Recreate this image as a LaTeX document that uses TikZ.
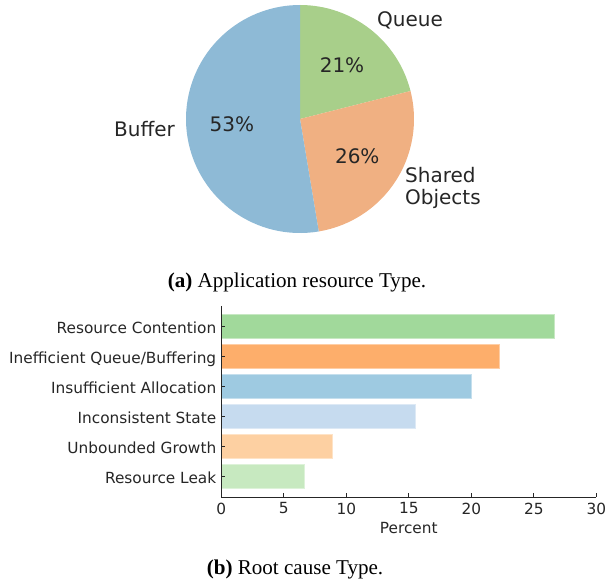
\documentclass[tikz,border=0pt]{standalone}
\usepackage{fontspec}
\setmainfont{Liberation Serif}
\newfontfamily\plotfont{DejaVu Sans}
\usepackage{tikz}
\usetikzlibrary{positioning}
\definecolor{pieblue}{HTML}{8EBAD6}
\definecolor{piegreen}{HTML}{A8CF8A}
\definecolor{pieorange}{HTML}{F0B082}
\definecolor{rcgreen}{HTML}{A1D99B}
\definecolor{iqorange}{HTML}{FDAE6B}
\definecolor{iablue}{HTML}{9ECAE1}
\definecolor{isblue}{HTML}{C6DBEF}
\definecolor{ugorange}{HTML}{FDD0A2}
\definecolor{rlgreen}{HTML}{C7E9C0}
\definecolor{inkgray}{HTML}{262626}

\begin{document}
\begin{tikzpicture}[x=0.75pt,y=0.75pt,
  every node/.style={inner sep=0pt,text=inkgray},
  pielabel/.style={font=\plotfont\fontsize{15}{16.5}\selectfont,align=left},
  axislabel/.style={font=\plotfont\fontsize{11.5}{13.5}\selectfont},
  caption/.style={font=\fontsize{15.8}{18}\selectfont,text=black},
  spine/.style={line width=0.75pt,draw=inkgray}]
\useasboundingbox (0,0) rectangle (606,586);
% pie, slices of 4/19, 5/19 and 10/19
\coordinate (pc) at (300,467);
\foreach \a/\b/\c in {90/14.21/piegreen,14.21/-80.53/pieorange,-80.53/-270/pieblue}
  \fill[\c] (pc) -- ++(\a:85.5pt) arc (\a:\b:85.5pt) -- cycle;
\node[pielabel,anchor=west] (queue) at ([shift={(52.11:94pt)}]pc) {Queue};
\node[pielabel,anchor=west] (shared) at ([shift={(-33.16:94pt)}]pc) {Shared\\Objects};
\node[pielabel,anchor=east] (buffer) at ([shift={(-175.26:94pt)}]pc) {Buffer};
\node[pielabel] (pq) at ([shift={(52.11:51.3pt)}]pc) {21\%};
\node[pielabel] (ps) at ([shift={(-33.16:51.3pt)}]pc) {26\%};
\node[pielabel] (pb) at ([shift={(-175.26:51.3pt)}]pc) {53\%};
\node[caption,anchor=base] (capa) at (297,299) {\textbf{(a)} Application resource Type.};
% bar chart, one unit = 1 percent across, 1 category up
\begin{scope}[shift={(221.3,89)},x=9.375pt,y=22.5pt]
\foreach \lbl/\val/\col [count=\i from 0] in {Resource Contention/26.667/rcgreen,
    {Inefficient Queue/Buffering}/22.222/iqorange,Insufficient Allocation/20/iablue,
    Inconsistent State/15.556/isblue,Unbounded Growth/8.889/ugorange,Resource Leak/6.667/rlgreen}{
  \pgfmathsetmacro\yc{5.68-\i}
  \fill[\col,draw=\col!60!white,line width=0.5pt] (0,\yc-0.4) rectangle (\val,\yc+0.4);
  \draw[spine] (0,\yc) -- ++(3pt,0pt);
  \node[axislabel,anchor=base east,xshift=-3.6pt,yshift=-5pt] (cat\i) at (0,\yc) {\lbl};
}
\foreach \t in {0,5,...,30}{
  \draw[spine] (\t,0) -- ++(0pt,3pt);
  \node[axislabel,anchor=north,yshift=-4.1pt] (xt\t) at (\t,0) {\t};
}
\draw[spine] (0,6.37) -- (0,0) -- (30,0);
\node[axislabel,anchor=north,yshift=-18.5pt] (xlabel) at (15,0) {Percent};
\end{scope}
\node[caption,anchor=base] (capb) at (295,12) {\textbf{(b)} Root cause Type.};
\end{tikzpicture}
\end{document}
